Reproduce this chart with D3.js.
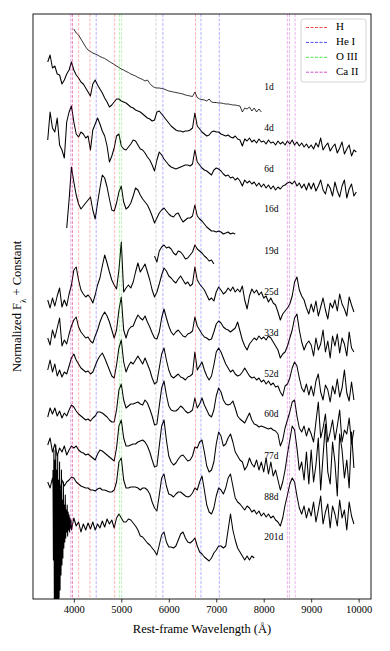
<!DOCTYPE html>
<html>
<head>
<meta charset="utf-8">
<script src="https://cdn.jsdelivr.net/npm/d3@7"></script>
<style>
  body { margin: 0; background: #fff; }
  svg text { font-family: "Liberation Serif", "Times New Roman", serif; fill: #000; }
</style>
</head>
<body>
<div id="chart"></div>
<script>
// wavelength grid (Angstrom)
const waveGrid = [
  3450, 3500, 3550, 3600, 3650, 3700, 3750, 3800, 3850, 3900, 3950,
  4000, 4050, 4100, 4150, 4200, 4250, 4300, 4350, 4400, 4450,
  4500, 4550, 4600, 4650, 4700, 4750, 4800, 4850, 4900, 4950,
  5000, 5050, 5100, 5150, 5200, 5250, 5300, 5350, 5400, 5450,
  5500, 5550, 5600, 5650, 5700, 5750, 5800, 5850, 5900, 5950,
  6000, 6050, 6100, 6150, 6200, 6250, 6300, 6350, 6400, 6450,
  6500, 6550, 6600, 6650, 6700, 6750, 6800, 6850, 6900, 6950,
  7000, 7050, 7100, 7150, 7200, 7250, 7300, 7350, 7400, 7450,
  7500, 7550, 7600, 7650, 7700, 7750, 7800, 7850, 7900, 7950,
  8000, 8050, 8100, 8150, 8200, 8250, 8300, 8350, 8400, 8450,
  8500, 8550, 8600, 8650, 8700, 8750, 8800, 8850, 8900, 8950,
  9000, 9050, 9100, 9150, 9200, 9250, 9300, 9350, 9400, 9450,
  9500, 9550, 9600, 9650, 9700, 9750, 9800, 9850, 9900, 9950
];

const epochs = ['1d', '4d', '6d', '16d', '19d', '25d', '33d', '52d', '60d', '77d', '88d', '201d'];
const startWave = [4000, 3450, 3450, 3850, 5700, 3450, 3450, 3450, 3450, 3450, 3450, 3950];
const labelLevel = [512, 471, 430, 390, 348, 307, 266, 225, 185, 143, 102, 62];

// normalized flux + constant (arbitrary units), one value per grid step from startWave
const flux1d = [
  571, 567, 565, 561, 557, 553, 550, 548.5, 547, 546,
  545, 543.5, 542.5, 541.5, 540, 538.5, 537, 535.5, 534, 532.5,
  531, 530, 528.5, 527.5, 526, 525, 524, 522.5, 521.5, 520.5,
  519, 520, 516.5, 514, 512.5, 512, 512, 511.5, 511, 510,
  509, 508.5, 508, 507.5, 507, 506.5, 506, 505, 504.5, 504,
  503.5, 508, 502.5, 501, 500.5, 500, 499, 501, 498, 497.5,
  497.5, 497, 497, 496.5, 496, 496, 495.5, 495, 495, 494.5,
  494, 488, 492, 491, 493, 489, 492, 488, 491, 488
];
const flux4d = [
  538, 545, 532, 534, 526, 525, 516, 520, 526, 530, 538,
  530, 525, 522, 518, 516, 512, 508, 504, 516, 520,
  515, 511, 507, 502, 498, 493, 495, 498, 501, 501,
  499, 498, 497, 495, 493, 492, 490, 489, 488, 486,
  484, 482, 481, 479, 480, 488, 489, 486, 483, 480,
  477, 474, 472, 470, 469, 469, 468, 469, 469, 470,
  472, 487, 474, 471, 468, 466, 464, 465, 468, 469,
  468, 468, 466, 465, 464, 465, 463, 462, 464, 461,
  460, 454, 461, 459, 462, 458, 460, 457, 461, 458,
  459, 456, 460, 457, 458, 455, 459, 456, 458, 455,
  459, 456, 460, 455, 458, 454, 457, 453, 456, 452,
  455, 451, 457, 453, 462, 450, 454, 457, 449, 453,
  456, 447, 452, 458, 446, 451, 455, 444, 450, 448
];
const flux6d = [
  460, 488, 472, 468, 482, 455, 450, 442, 478, 488, 494,
  478, 466, 463, 468, 466, 462, 464, 450, 470, 476,
  482, 476, 469, 464, 454, 438, 444, 452, 464, 466,
  454, 451, 450, 453, 456, 460, 459, 455, 451, 450,
  447, 443, 440, 435, 429, 440, 448, 445, 441, 438,
  435, 433, 432, 431, 432, 433, 434, 435, 435, 434,
  436, 450, 438, 435, 432, 430, 429, 427, 425, 430,
  432, 431, 429, 426, 424, 425, 422, 423, 420, 422,
  419, 414, 420, 417, 419, 416, 418, 414, 417, 413,
  416, 412, 415, 411, 414, 410, 413, 411, 414, 415,
  417, 418, 416, 419, 414, 417, 412, 416, 410, 417,
  411, 417, 409, 414, 420, 410, 406, 416, 412, 404,
  418, 409, 403, 414, 420, 402, 411, 416, 404, 408
];
const flux16d = [
  372, 400, 433,
  418, 405, 396, 391, 394, 397, 400, 403, 390, 381,
  397, 412, 425, 422, 413, 401, 390, 389, 397, 408,
  414, 398, 391, 393, 397, 404, 412, 410, 405, 401,
  398, 395, 390, 384, 377, 382, 387, 390, 392, 389,
  386, 384, 383, 386, 387, 382, 378, 380, 382, 382,
  384, 395, 384, 381, 379, 376, 373, 371, 369, 369,
  368, 369, 368, 366, 367, 368, 366, 367, 366
];
const flux19d = [
  344, 338, 349, 353, 355, 352, 353, 351, 347, 345,
  349, 348, 345, 341, 342, 345, 348, 355, 351, 349,
  347, 344, 342, 339, 340, 336
];
const flux25d = [
  300, 292, 302, 294, 304, 312, 293, 300, 294, 306, 315,
  330, 333, 320, 310, 306, 303, 305, 302, 297, 305,
  315, 322, 334, 345, 337, 328, 320, 315, 311, 330,
  358, 308, 312, 315, 312, 318, 328, 337, 328, 332,
  336, 328, 320, 310, 303, 308, 316, 325, 332, 329,
  324, 322, 319, 317, 321, 324, 320, 316, 318, 314,
  316, 333, 320, 316, 313, 310, 305, 300, 302, 299,
  308, 313, 310, 306, 308, 312, 309, 313, 308, 311,
  308, 314, 300, 291, 304, 311, 307, 310, 305, 308,
  302, 304, 298, 302, 297, 295, 288, 280, 286, 289,
  292, 296, 304, 318, 323, 310, 304, 300, 292, 286,
  296, 288, 299, 284, 293, 302, 290, 281, 297, 292,
  300, 289, 306, 296, 291, 284, 303, 295, 288
];
const flux33d = [
  262, 255, 270, 262, 272, 282, 254, 260, 256, 266, 274,
  280, 283, 273, 268, 265, 262, 263, 259, 257, 264,
  270, 278, 284, 288, 284, 278, 270, 262, 270, 290,
  303, 270, 262, 270, 273, 274, 280, 285, 282, 280,
  284, 278, 273, 267, 262, 261, 268, 282, 291, 282,
  274, 268, 265, 268, 270, 267, 264, 263, 266, 267,
  269, 283, 274, 270, 266, 263, 262, 260, 261, 268,
  276, 279, 277, 273, 271, 270, 268, 270, 272, 278,
  269, 260, 254, 250, 256, 259, 262, 260, 264, 261,
  263, 260, 264, 262, 258, 254, 250, 242, 246, 248,
  254, 262, 270, 282, 286, 270, 258, 250, 256, 259,
  255, 244, 262, 250, 256, 270, 248, 259, 242, 264,
  254, 266, 247, 262, 256, 244, 268, 252, 248
];
const flux52d = [
  230, 240, 228, 236, 224, 230, 223, 228, 226, 234, 242,
  246, 240, 236, 232, 230, 228, 229, 226, 228, 234,
  240, 244, 247, 242, 236, 230, 224, 222, 235, 252,
  260, 238, 228, 234, 238, 236, 240, 244, 240, 236,
  242, 236, 230, 222, 216, 218, 232, 246, 252, 240,
  230, 224, 222, 224, 226, 223, 222, 220, 223, 224,
  226, 248, 230, 234, 238, 230, 224, 220, 224, 235,
  248, 252, 248, 242, 236, 232, 228, 230, 226, 224,
  225, 228, 232, 228, 224, 222, 223, 220, 222, 218,
  220, 216, 219, 215, 217, 213, 214, 208, 204, 214,
  216, 222, 232, 238, 234, 222, 212, 208, 216, 205,
  214, 204, 219, 226, 208, 200, 215, 210, 198, 214,
  206, 221, 203, 212, 230, 207, 199, 218, 200
];
const flux60d = [
  183, 192, 186, 192, 184, 189, 182, 187, 184, 190, 195,
  193, 189, 186, 184, 182, 180, 181, 179, 182, 184,
  188, 188, 187, 185, 183, 180, 178, 178, 190, 210,
  216, 200, 192, 194, 196, 196, 197, 198, 196, 195,
  200, 197, 191, 184, 175, 176, 194, 212, 219, 205,
  194, 190, 189, 189, 191, 194, 192, 189, 187, 188,
  190, 202, 192, 196, 202, 195, 190, 185, 183, 190,
  204, 212, 208, 200, 196, 195, 196, 199, 192, 184,
  181, 179, 177, 182, 187, 180, 176, 175, 173, 174,
  173, 172, 171, 172, 170, 169, 166, 154, 160, 172,
  180, 188, 198, 200, 184, 172, 168, 174, 164, 172,
  166, 158, 178, 198, 162, 172, 186, 158, 168, 180,
  160, 174, 190, 158, 170, 166, 182, 156, 170
];
const flux77d = [
  155, 162, 148, 156, 144, 152, 148, 154, 145, 150, 154,
  152, 154, 150, 148, 147, 145, 146, 144, 142, 140,
  146, 150, 149, 147, 145, 143, 141, 139, 152, 174,
  180, 162, 154, 154, 155, 156, 156, 158, 159, 160,
  158, 154, 148, 140, 133, 134, 154, 174, 180, 160,
  144, 138, 135, 137, 141, 144, 145, 142, 139, 140,
  144, 153, 152, 158, 160, 148, 134, 128, 130, 138,
  156, 168, 164, 154, 156, 162, 166, 158, 148, 144,
  140, 138, 130, 134, 142, 136, 133, 140, 130, 138,
  128, 142, 126, 138, 124, 130, 120, 110, 118, 130,
  146, 160, 174, 170, 152, 130, 138, 120, 148, 116,
  150, 118, 135, 162, 110, 144, 176, 128, 116, 158,
  138, 104, 166, 150, 122, 140, 112, 168, 132
];
const flux88d = [
  118, 112, 122, 106, 116, 108, 120, 114, 118, 120, 123,
  122, 118, 116, 114, 113, 112, 112, 110, 110, 109,
  111, 112, 110, 110, 109, 108, 108, 110, 118, 138,
  142, 120, 112, 112, 113, 113, 113, 112, 110, 112,
  112, 110, 106, 98, 92, 89, 105, 122, 126, 114,
  106, 105, 103, 106, 108, 108, 106, 104, 103, 104,
  107, 112, 110, 118, 124, 110, 95, 88, 86, 92,
  104, 112, 110, 106, 112, 122, 126, 114, 102, 98,
  96, 93, 90, 94, 92, 88, 90, 86, 89, 84,
  87, 83, 86, 82, 84, 80, 78, 74, 82, 95,
  105, 116, 122, 118, 104, 92, 86, 94, 82, 92,
  84, 98, 78, 90, 104, 76, 88, 96, 72, 94,
  86, 74, 100, 82, 90, 70, 98, 84, 76
];
const flux201d = [
  70, 82, 74, 78, 68, 76, 70, 77, 71, 78, 70,
  76, 72, 79, 73, 81, 76, 80, 72, 82, 86,
  82, 78, 78, 81, 80, 77, 74, 70, 64, 63,
  60, 57, 55, 52, 49, 45, 55, 65, 68, 58,
  53, 53, 52, 54, 60, 66, 68, 62, 58, 57,
  59, 62, 54, 48, 46, 43, 41, 39, 42, 47,
  50, 54, 54, 52, 54, 70, 86, 70, 60, 52,
  48, 44, 40, 44, 40, 44, 42
];
// noisy blue end of the 201d spectrum, finer sampling
const wave201Blue = [
  3560, 3570, 3580, 3590, 3600, 3610, 3620, 3630, 3640, 3650,
  3660, 3670, 3680, 3690, 3700, 3710, 3720, 3730, 3740, 3750,
  3760, 3770, 3780, 3790, 3800, 3810, 3820, 3830, 3840, 3850,
  3860, 3870, 3880, 3890, 3900, 3910, 3920, 3930, 3940
];
const flux201Blue = [
  130, 40, 150, -10, 140, 0, 155, -15, 130, -5,
  145, -12, 120, 2, 138, 10, 110, 25, 130, 35,
  100, 42, 118, 52, 95, 58, 105, 62, 90, 68,
  95, 64, 88, 70, 85, 68, 82, 72, 80
];

const fluxes = [flux1d, flux4d, flux6d, flux16d, flux19d, flux25d, flux33d,
                flux52d, flux60d, flux77d, flux88d, flux201d];

// line identifications (rest wavelength, Angstrom)
const hLines = [3970, 4102, 4340, 4861, 6563];
const heLines = [4471, 5876, 6678, 7065];
const o3Lines = [4959, 5007];
const ca2Lines = [3934, 3968, 8498, 8542, 8662];
const otherLines = [5730];

const xTicks = [4000, 5000, 6000, 7000, 8000, 9000, 10000];
const labelWave = 8010;

const lineSets = [
  { name: 'H', color: '#ff0000', waves: hLines },
  { name: 'He I', color: '#0000ff', waves: heLines },
  { name: 'O III', color: '#00dd00', waves: o3Lines },
  { name: 'Ca II', color: '#bf00bf', waves: ca2Lines }
];

const W = 390, H = 651;
const margin = { top: 14, right: 19, bottom: 52, left: 33 };

const svg = d3.select('#chart').append('svg')
  .attr('width', W)
  .attr('height', H);

const x = d3.scaleLinear().domain([3140, 10260]).range([margin.left, W - margin.right]);
const y = d3.scaleLinear().domain([1, 586]).range([H - margin.bottom, margin.top]);

svg.append('defs').append('clipPath').attr('id', 'plot-clip')
  .append('rect')
  .attr('x', margin.left).attr('y', margin.top)
  .attr('width', W - margin.left - margin.right)
  .attr('height', H - margin.top - margin.bottom);

const plot = svg.append('g').attr('clip-path', 'url(#plot-clip)');

// spectra
const spectra = epochs.map((label, i) => {
  const i0 = waveGrid.indexOf(startWave[i]);
  let pts = fluxes[i].map((f, j) => [waveGrid[i0 + j], f]);
  if (label === '201d') pts = wave201Blue.map((w, j) => [w, flux201Blue[j]]).concat(pts);
  return { label, pts, level: labelLevel[i] };
});

const line = d3.line().x(d => x(d[0])).y(d => y(d[1]));

plot.selectAll('path.spec')
  .data(spectra)
  .join('path')
  .attr('class', 'spec')
  .attr('d', d => line(d.pts))
  .attr('fill', 'none')
  .attr('stroke', '#000')
  .attr('stroke-width', d => d.label === '1d' ? 0.8 : 1.05)
  .attr('stroke-linejoin', 'round');

// line identifications
lineSets.forEach(s => {
  plot.selectAll(null)
    .data(s.waves)
    .join('line')
    .attr('x1', d => x(d)).attr('x2', d => x(d))
    .attr('y1', margin.top).attr('y2', H - margin.bottom)
    .attr('stroke', s.color)
    .attr('stroke-opacity', 0.3)
    .attr('stroke-width', 1)
    .attr('stroke-dasharray', '3,1.5');
});
plot.selectAll(null)
  .data(otherLines)
  .join('line')
  .attr('x1', d => x(d)).attr('x2', d => x(d))
  .attr('y1', margin.top).attr('y2', H - margin.bottom)
  .attr('stroke', '#808080')
  .attr('stroke-opacity', 0.35)
  .attr('stroke-width', 1)
  .attr('stroke-dasharray', '3,1.5');

// epoch labels
svg.selectAll('text.epoch')
  .data(spectra)
  .join('text')
  .attr('class', 'epoch')
  .attr('x', x(labelWave))
  .attr('y', d => y(d.level))
  .attr('dominant-baseline', 'middle')
  .style('font-size', '9.5px')
  .text(d => d.label);

// frame
svg.append('rect')
  .attr('x', margin.left).attr('y', margin.top)
  .attr('width', W - margin.left - margin.right)
  .attr('height', H - margin.top - margin.bottom)
  .attr('fill', 'none')
  .attr('stroke', '#000')
  .attr('stroke-width', 0.9);

// x axis
const xAxis = svg.append('g')
  .attr('transform', `translate(0,${H - margin.bottom})`)
  .call(d3.axisBottom(x).tickValues(xTicks).tickSize(3.5).tickPadding(3).tickFormat(d3.format('d')));
xAxis.select('.domain').remove();
xAxis.selectAll('.tick line').attr('stroke-width', 0.8);
xAxis.selectAll('.tick text')
  .style('font-family', '"Liberation Serif", "Times New Roman", serif')
  .style('font-size', '10.5px');

svg.append('text')
  .attr('x', (margin.left + W - margin.right) / 2)
  .attr('y', 633)
  .attr('text-anchor', 'middle')
  .style('font-size', '12.5px')
  .text('Rest-frame Wavelength (Å)');

const yLab = svg.append('text')
  .attr('transform', `translate(21,${(margin.top + H - margin.bottom) / 2}) rotate(-90)`)
  .attr('text-anchor', 'middle')
  .style('font-size', '12.5px');
yLab.append('tspan').text('Normalized F');
yLab.append('tspan').attr('baseline-shift', 'sub').style('font-size', '9px').text('λ');
yLab.append('tspan').text(' + Constant');

// legend
const leg = svg.append('g');
leg.append('rect')
  .attr('x', 301).attr('y', 19)
  .attr('width', 65).attr('height', 63)
  .attr('rx', 2.5)
  .attr('fill', '#fff').attr('fill-opacity', 0.85)
  .attr('stroke', '#d0d0d0').attr('stroke-width', 0.9);
lineSets.forEach((s, i) => {
  const yy = 27.5 + i * 14.9;
  leg.append('line')
    .attr('x1', 306).attr('x2', 327)
    .attr('y1', yy).attr('y2', yy)
    .attr('stroke', s.color)
    .attr('stroke-opacity', 0.7)
    .attr('stroke-width', 1)
    .attr('stroke-dasharray', '3,1.5');
  leg.append('text')
    .attr('x', 336).attr('y', yy)
    .attr('dominant-baseline', 'middle')
    .style('font-size', '11px')
    .text(s.name);
});
</script>
</body>
</html>
